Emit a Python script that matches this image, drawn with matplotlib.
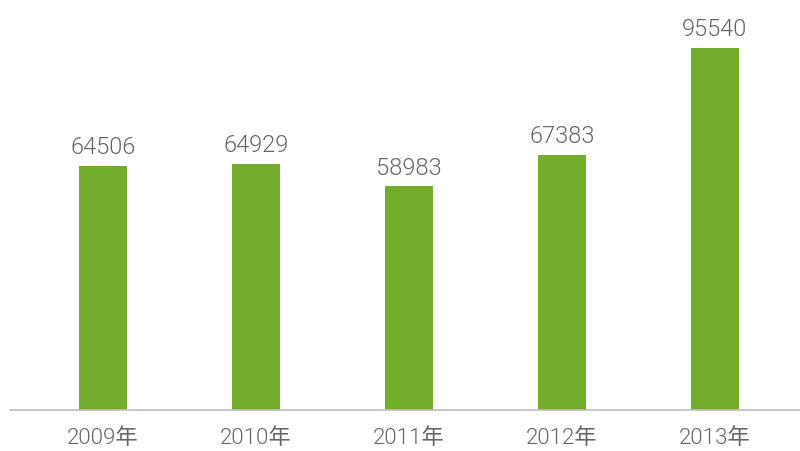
import matplotlib
matplotlib.use("Agg")
import matplotlib.pyplot as plt

plt.rcParams['font.family'] = ['Roboto', 'Noto Sans CJK SC', 'DejaVu Sans']

years = ['2009年', '2010年', '2011年', '2012年', '2013年']
values = [64506, 64929, 58983, 67383, 95540]

bar_color = '#72ae2c'
text_color = '#666666'

fig = plt.figure(figsize=(8, 4.51), dpi=100)
ax = fig.add_axes([0.0125, 41 / 451, 0.9875, 410 / 451])

x = range(len(years))
bars = ax.bar(x, values, width=0.314, color=bar_color)

for i, v in enumerate(values):
    ax.annotate(str(v), (i, v), xytext=(0, 5), textcoords='offset points',
                ha='center', va='bottom', fontsize=17, color=text_color,
                fontweight=300)

ax.set_xlim(-0.608, 4.556)
ax.set_ylim(0, 108200)
ax.set_xticks(list(x))
ax.set_xticklabels(years, fontsize=16, color=text_color, fontweight=300)
ax.tick_params(axis='x', length=0, pad=13)
ax.set_yticks([])

for side in ['top', 'right', 'left']:
    ax.spines[side].set_visible(False)
ax.spines['bottom'].set_color('#bfbfbf')
ax.spines['bottom'].set_linewidth(1.2)

fig.savefig('out.png', dpi=100)
plt.close(fig)
